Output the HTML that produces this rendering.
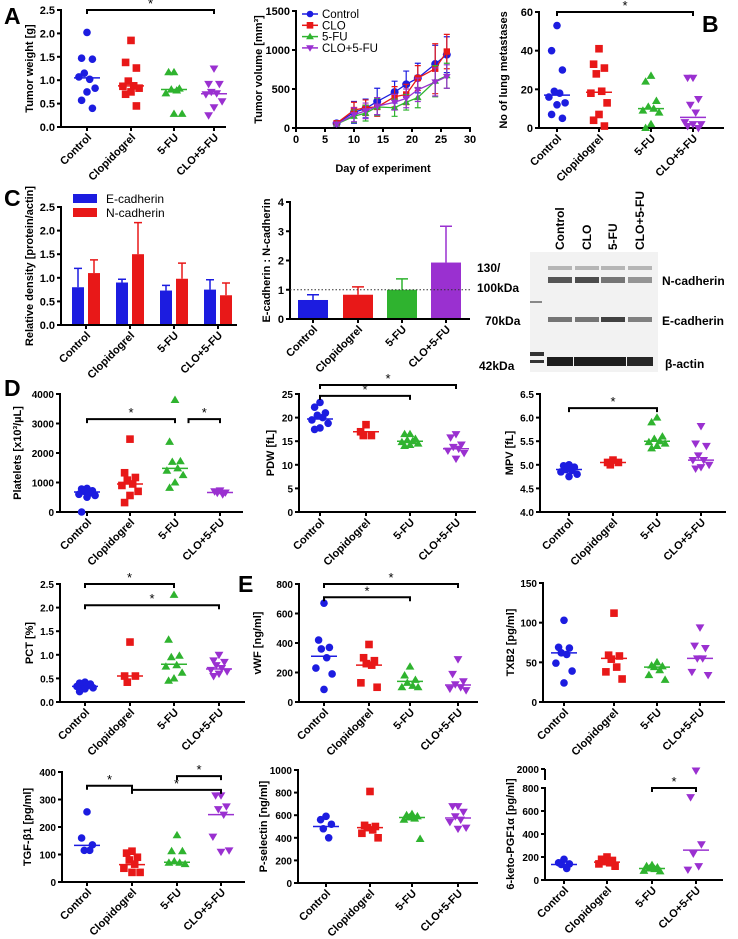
<!DOCTYPE html>
<html><head><meta charset="utf-8"><style>
html,body{margin:0;padding:0;background:#fff}
svg{display:block;font-family:"Liberation Sans",Arial,sans-serif}
</style></head><body>
<svg id="fig" width="738" height="939" viewBox="0 0 738 939" xmlns="http://www.w3.org/2000/svg">
<rect width="738" height="939" fill="#fff"/>
<g font-weight="bold" font-size="23" fill="#000">
<text x="4" y="24">A</text>
<text x="702" y="32">B</text>
<text x="4" y="206">C</text>
<text x="4" y="396">D</text>
<text x="238" y="592">E</text>
</g>
<g id="blot">
<rect x="530" y="252" width="128" height="120" fill="#f2f2f2"/>
<g font-weight="bold" font-size="12" fill="#000">
<text transform="translate(564,250) rotate(-90)">Control</text>
<text transform="translate(591,250) rotate(-90)">CLO</text>
<text transform="translate(617,250) rotate(-90)">5-FU</text>
<text transform="translate(644,250) rotate(-90)">CLO+5-FU</text>
<text x="477" y="272">130/</text>
<text x="477" y="292">100kDa</text>
<text x="485" y="325">70kDa</text>
<text x="479" y="370">42kDa</text>
<text x="662" y="285">N-cadherin</text>
<text x="662" y="325">E-cadherin</text>
<text x="665" y="368">β-actin</text>
</g>
</g>
</svg>
<script>
const groups=['Control','Clopidogrel','5-FU','CLO+5-FU'];
const colors=['#1c1ce0','#e81818','#2fb32f','#9a30d0'];
const shapes=['circle','square','tri','itri'];

// Panel A tumor weight
const twTicks=[0,0.5,1,1.5,2,2.5];
const twTickLabels=['0.0','0.5','1.0','1.5','2.0','2.5'];
const twValues=[[2.02,1.47,1.45,1.15,1.02,1.07,0.83,0.75,0.57,0.40],[1.85,1.38,1.26,0.98,0.88,0.87,0.83,0.75,0.70,0.45],[1.17,1.17,0.82,0.80,0.78,0.72,0.28,0.28],[1.25,0.92,0.92,0.75,0.72,0.70,0.55,0.42,0.25]];
const twMedians=[1.05,0.88,0.80,0.71];
const twSig=[[0,3,2.5]];
// Panel B lung metastases
const lmTicks=[0,20,40,60];
const lmTickLabels=['0','20','40','60'];
const lmValues=[[53,40,30,19,18,16,13,12,7,5],[41,33,31,28,19,18,13,7,4,1],[27,24,14,11,10,9,8,2,0],[26,26,15,12,8,3,2,2,1,0]];
const lmMedians=[17,18.5,10,5.5];
const lmSig=[[0,3,60]];
// Line chart
const days=[7,10,12,14,17,19,21,24,26];
const dayTicks=[0,5,10,15,20,25,30];
const volTicks=[0,500,1000,1500];
const volControl=[60,200,250,340,460,560,640,820,940];
const volControlErr=[30,140,120,170,140,170,190,240,230];
const volClo=[60,230,260,270,400,430,640,760,980];
const volCloErr=[30,100,100,120,130,130,160,320,220];
const vol5fu=[50,150,190,270,260,330,390,600,670];
const vol5fuErr=[25,80,100,110,110,100,130,200,160];
const volCombo=[50,170,220,280,330,380,490,590,660];
const volComboErr=[25,90,100,110,100,120,150,180,150];
// Panel C bars
const ecad=[0.8,0.9,0.73,0.75];
const ecadErr=[0.4,0.07,0.11,0.21];
const ncad=[1.1,1.5,0.98,0.63];
const ncadErr=[0.28,0.67,0.33,0.26];
const cTicks=[0,0.5,1,1.5,2,2.5];
const cTickLabels=['0.0','0.5','1.0','1.5','2.0','2.5'];
const ratio=[0.65,0.83,1.0,1.93];
const ratioErr=[0.18,0.27,0.37,1.24];
const ratioTicks=[0,1,2,3,4];
// Platelets
const pltTicks=[0,1000,2000,3000,4000];
const pltValues=[[800,780,720,700,640,600,560,500,0],[2470,1330,1170,1080,950,900,700,560,320],[3800,2380,1720,1700,1480,1400,1250,1000,820],[730,700,660,650,600]];
const pltMedians=[680,950,1480,660];
const pltSig=[[0,2,3150],[2.3,3,3150]];
// PDW
const pdwTicks=[0,5,10,15,20,25];
const pdwValues=[[23.2,22.2,21,20.5,20,19.5,18.8,17.8,17.5],[18.5,17,16.2,16.2],[16.5,16.5,15.5,15.2,15,14.8,14.5,14.2,14],[16.5,15.8,14.3,13.8,13.4,13,12.5,11.3]];
const pdwMedians=[19.7,17,15,13.4];
const pdwSig=[[0,2,24.6],[0,3,26.9]];
// MPV
const mpvTicks=[4,4.5,5,5.5,6,6.5];
const mpvTickLabels=['4.0','4.5','5.0','5.5','6.0','6.5'];
const mpvValues=[[5.0,4.98,4.95,4.9,4.88,4.85,4.8,4.75],[5.1,5.05,5.05,5.0],[6.0,5.9,5.6,5.55,5.5,5.48,5.45,5.4,5.35],[5.82,5.45,5.4,5.2,5.1,5.1,5.0,4.95,4.92]];
const mpvMedians=[4.9,5.05,5.5,5.1];
const mpvSig=[[0,2,6.2]];
// PCT
const pctTicks=[0,0.5,1,1.5,2,2.5];
const pctTickLabels=['0.0','0.5','1.0','1.5','2.0','2.5'];
const pctValues=[[0.42,0.4,0.38,0.36,0.35,0.33,0.3,0.28,0.22],[1.27,0.55,0.55,0.42],[2.27,1.32,0.98,0.95,0.78,0.75,0.62,0.5,0.45],[1.0,0.88,0.85,0.78,0.72,0.68,0.65,0.6,0.55]];
const pctMedians=[0.33,0.55,0.8,0.7];
const pctSig=[[0,2,2.5],[0,3,2.05]];
// vWF
const vwfTicks=[0,200,400,600,800];
const vwfValues=[[670,420,370,360,300,230,190,85],[390,300,280,260,250,130,100],[240,180,150,130,110,100,100],[290,190,140,120,100,90,80]];
const vwfMedians=[310,250,140,115];
const vwfSig=[[0,2,710],[0,3,800]];
// TXB2
const txbTicks=[0,50,100,150];
const txbValues=[[103,69,68,62,60,49,39,24],[112,59,58,54,44,38,29],[50,46,45,44,40,34,28],[94,71,68,55,55,38,34]];
const txbMedians=[62,55,44,55];
// TGF
const tgfTicks=[0,100,200,300,400];
const tgfValues=[[255,160,135,115,115],[112,105,90,80,65,50,35,35],[170,112,112,75,70,70,65],[315,315,275,265,245,165,115,110]];
const tgfMedians=[133,63,72,245];
const tgfSig=[[0,1,350],[1,3,335],[2,3,385]];
// P-selectin
const pselTicks=[0,200,400,600,800,1000];
const pselValues=[[590,560,520,480,400],[810,510,500,490,470,440,400],[610,600,590,580,570,560,390],[680,680,630,590,560,540,490,480]];
const pselMedians=[500,490,580,575];
// 6-keto
const ketoTicks=[0,200,400,600,800];
const ketoValues=[[180,150,140,135,100],[200,180,170,160,150,140,120],[130,120,110,100,95,80,75],[1900,720,310,230,120,90]];
const ketoMedians=[135,155,100,260];
const ketoSig=[[2,3,800]];

const NS='http://www.w3.org/2000/svg';
const svg=document.getElementById('fig');
function mk(tag,attrs,name,parent){
  const e=document.createElementNS(NS,tag);
  for(const k in attrs)e.setAttribute(k,attrs[k]);
  
  
  (parent||svg).appendChild(e);return e;
}
function txt(x,y,s,attrs,name,parent){const t=mk('text',Object.assign({x:x,y:y,'font-weight':'bold','font-size':11,fill:'#000'},attrs||{}),name,parent);t.textContent=s;return t;}
function marker(g,shape,x,y,c,r){
  r=r||3.8;
  if(shape==='circle')mk('circle',{cx:x,cy:y,r:r,fill:c},'marker-circle',g);
  else if(shape==='square')mk('rect',{x:x-r,y:y-r,width:2*r,height:2*r,fill:c},'marker-square',g);
  else if(shape==='tri')mk('polygon',{points:`${x},${y-r-0.6} ${x+r+0.6},${y+r*0.8} ${x-r-0.6},${y+r*0.8}`,fill:c},'marker-triangle',g);
  else mk('polygon',{points:`${x},${y+r+0.6} ${x+r+0.6},${y-r*0.8} ${x-r-0.6},${y-r*0.8}`,fill:c},'marker-inverted-triangle',g);
}
function yAxis(g,L,ticks,labels,title,titleX){
  const ys=v=>L.yfn?L.yfn(v):L.y0-(v-L.vmin)/(L.vmax-L.vmin)*(L.y0-L.y1);
  mk('line',{x1:L.ax,y1:ys(ticks[ticks.length-1])-1,x2:L.ax,y2:L.y0+1,stroke:'#000','stroke-width':2},'y-axis',g);
  ticks.forEach((t,i)=>{const y=ys(t);
    mk('line',{x1:L.ax-4,y1:y,x2:L.ax,y2:y,stroke:'#000','stroke-width':2},'y-tick',g);
    txt(L.ax-6,y+4,labels?labels[i]:String(t),{'text-anchor':'end','font-size':L.tf||11},'y-tick-label',g);});
  const mid=(L.y0+ys(ticks[ticks.length-1]))/2;
  txt(0,0,title,{'text-anchor':'middle',transform:`translate(${titleX},${mid}) rotate(-90)`,'font-size':L.titf||11},'y-axis-title',g);
  return ys;
}
function xAxisCats(g,L){
  mk('line',{x1:L.ax-1,y1:L.y0,x2:L.xEnd,y2:L.y0,stroke:'#000','stroke-width':2},'x-axis',g);
  L.cats.forEach((cx,i)=>{
    mk('line',{x1:cx,y1:L.y0,x2:cx,y2:L.y0+4,stroke:'#000','stroke-width':2},'x-tick',g);
    txt(0,0,groups[i],{'text-anchor':'end','font-size':11,transform:`translate(${cx+5},${L.y0+11}) rotate(-45)`},'x-category-label',g);
  });
}
const jit=[0,-6,6,-3,3,-9,9,0,-6,6];
function scatterPanel(name,L,ticks,labels,title,titleX,values,medians,sig){
  const g=mk('g',{},name);
  const ys=yAxis(g,L,ticks,labels,title,titleX);
  xAxisCats(g,L);
  values.forEach((arr,gi)=>{
    arr.forEach((v,i)=>marker(g,shapes[gi],L.cats[gi]+jit[i%jit.length]*0.9,ys(v),colors[gi]));
    const my=ys(medians[gi]);
    mk('line',{x1:L.cats[gi]-13,y1:my,x2:L.cats[gi]+13,y2:my,stroke:colors[gi],'stroke-width':1.5},'median-line',g);
  });
  (sig||[]).forEach(s=>{
    const pos=k=>{const a=Math.floor(k),f=k-a;return f?L.cats[a]+f*(L.cats[a+1]-L.cats[a]):L.cats[a];};
    const x1=pos(s[0]),x2=pos(s[1]),y=ys(s[2]);
    mk('path',{d:`M${x1},${y+4}V${y}H${x2}V${y+4}`,fill:'none',stroke:'#000','stroke-width':2},'significance-bracket',g);
    txt((x1+x2)/2,y-2,'*',{'text-anchor':'middle','font-size':13,'font-weight':'normal'},'significance-star',g);
  });
  return g;
}
scatterPanel('tumor-weight-chart',{ax:61,y0:127,y1:10,vmin:0,vmax:2.5,cats:[87,131,174,214],xEnd:226},twTicks,twTickLabels,'Tumor weight [g]',33,twValues,twMedians,twSig);
scatterPanel('lung-metastases-chart',{ax:539,y0:128,y1:12,vmin:0,vmax:60,cats:[557,599,651,693],xEnd:724},lmTicks,lmTickLabels,'No of lung metastases',507,lmValues,lmMedians,lmSig);
scatterPanel('platelets-chart',{ax:60,y0:512,y1:394,vmin:0,vmax:4000,cats:[87,130,175,220],xEnd:243,tf:10},pltTicks,null,'Platelets [x10³/µL]',21,pltValues,pltMedians,pltSig);
scatterPanel('pdw-chart',{ax:299,y0:512,y1:394,vmin:0,vmax:25,cats:[320,366,410,456],xEnd:476,tf:10},pdwTicks,null,'PDW [fL]',274,pdwValues,pdwMedians,pdwSig);
scatterPanel('mpv-chart',{ax:540,y0:512,y1:394,vmin:4,vmax:6.5,cats:[569,613,657,701],xEnd:726,tf:10},mpvTicks,mpvTickLabels,'MPV [fL]',513,mpvValues,mpvMedians,mpvSig);
scatterPanel('pct-chart',{ax:60,y0:702,y1:584,vmin:0,vmax:2.5,cats:[85,130,174,219],xEnd:245,tf:10},pctTicks,pctTickLabels,'PCT [%]',33,pctValues,pctMedians,pctSig);
scatterPanel('vwf-chart',{ax:299,y0:702,y1:584,vmin:0,vmax:800,cats:[324,369,410,458],xEnd:478,tf:10},vwfTicks,null,'vWF [ng/ml]',261,vwfValues,vwfMedians,vwfSig);
scatterPanel('txb2-chart',{ax:543,y0:702,y1:583,vmin:0,vmax:150,cats:[564,614,657,700],xEnd:725,tf:10},txbTicks,null,'TXB2 [pg/ml]',514,txbValues,txbMedians,null);
scatterPanel('tgf-chart',{ax:62,y0:882,y1:772,vmin:0,vmax:400,cats:[87,132,177,221],xEnd:245,tf:10},tgfTicks,null,'TGF-β1 [pg/ml]',31,tgfValues,tgfMedians,tgfSig);
scatterPanel('p-selectin-chart',{ax:298,y0:883,y1:770,vmin:0,vmax:1000,cats:[326,370,412,458],xEnd:478,tf:10},pselTicks,null,'P-selectin [ng/ml]',267,pselValues,pselMedians,null);
const ketoY=v=>v<=800?880-v/800*92:788-(v-800)/1200*19;
const kg=scatterPanel('keto-chart',{ax:545,y0:880,y1:788,vmin:0,vmax:800,yfn:ketoY,cats:[564,607,652,696],xEnd:723,tf:10},ketoTicks,null,'6-keto-PGF1α [pg/ml]',514,ketoValues,ketoMedians,ketoSig);
mk('line',{x1:545,y1:769,x2:545,y2:780,stroke:'#000','stroke-width':2},'y-axis-break-segment',kg);
mk('line',{x1:541,y1:769,x2:545,y2:769,stroke:'#000','stroke-width':2},'y-tick',kg);
txt(539,773,'2000',{'text-anchor':'end','font-size':10},'y-tick-label',kg);

// Line chart
(function(){
  const g=mk('g',{},'tumor-volume-chart');
  const L={ax:296,y0:128,y1:11,vmin:0,vmax:1500};
  const xs=d=>296+d/30*174;
  const ys=yAxis(g,L,volTicks,null,'Tumor volume [mm³]',262);
  mk('line',{x1:295,y1:128,x2:471,y2:128,stroke:'#000','stroke-width':2},'x-axis',g);
  dayTicks.forEach(d=>{mk('line',{x1:xs(d),y1:128,x2:xs(d),y2:132,stroke:'#000','stroke-width':2},'x-tick',g);
    txt(xs(d),143,String(d),{'text-anchor':'middle'},'x-tick-label',g);});
  txt(383,172,'Day of experiment',{'text-anchor':'middle'},'x-axis-title',g);
  const series=[[volControl,volControlErr],[volClo,volCloErr],[vol5fu,vol5fuErr],[volCombo,volComboErr]];
  series.forEach((s,si)=>{
    const sg=mk('g',{},'series-'+groups[si].toLowerCase(),g);
    s[0].forEach((v,i)=>{const x=xs(days[i]);
      mk('path',{d:`M${x-3},${ys(v+s[1][i])}H${x+3}M${x},${ys(v+s[1][i])}V${ys(Math.max(0,v-s[1][i]))}M${x-3},${ys(Math.max(0,v-s[1][i]))}H${x+3}`,stroke:colors[si],'stroke-width':1.2,fill:'none'},'error-bar',sg);});
    mk('polyline',{points:s[0].map((v,i)=>xs(days[i])+','+ys(v)).join(' '),fill:'none',stroke:colors[si],'stroke-width':1.3},'series-line',sg);
    s[0].forEach((v,i)=>marker(sg,shapes[si],xs(days[i]),ys(v),colors[si],si===0?4:3.2));
  });
  const names=['Control','CLO','5-FU','CLO+5-FU'];
  names.forEach((n,i)=>{const y=14+i*11.3;
    mk('line',{x1:302,y1:y,x2:318,y2:y,stroke:colors[i],'stroke-width':1.5},'legend-line',g);
    marker(g,shapes[i],310,y,colors[i],3.3);
    txt(322,y+4,n,{'font-weight':'normal','font-size':11.5},'legend-entry',g);});
})();

// Bar chart C1
(function(){
  const g=mk('g',{},'cadherin-density-chart');
  const L={ax:61,y0:325,y1:207,vmin:0,vmax:2.5,cats:[86,130,174,218],xEnd:237,tf:11};
  const ys=yAxis(g,L,cTicks,cTickLabels,'Relative density [protein/actin]',33);
  ecad.forEach((v,i)=>{const x=L.cats[i]-14;
    mk('path',{d:`M${x+6},${ys(v)}V${ys(v+ecadErr[i])}M${x+2},${ys(v+ecadErr[i])}H${x+10}`,stroke:'#1c1ce0','stroke-width':1.5},'error-bar',g);
    mk('rect',{x:x,y:ys(v),width:12,height:L.y0-ys(v),fill:'#1c1ce0'},'bar-e-cadherin',g);});
  ncad.forEach((v,i)=>{const x=L.cats[i]+2;
    mk('path',{d:`M${x+6},${ys(v)}V${ys(v+ncadErr[i])}M${x+2},${ys(v+ncadErr[i])}H${x+10}`,stroke:'#e81818','stroke-width':1.5},'error-bar',g);
    mk('rect',{x:x,y:ys(v),width:12,height:L.y0-ys(v),fill:'#e81818'},'bar-n-cadherin',g);});
  xAxisCats(g,L);
  mk('rect',{x:73,y:194,width:24,height:9,fill:'#1c1ce0'},'legend-swatch-e-cadherin',g);
  txt(106,203,'E-cadherin',{'font-weight':'normal','font-size':12},'legend-entry',g);
  mk('rect',{x:73,y:208,width:24,height:9,fill:'#e81818'},'legend-swatch-n-cadherin',g);
  txt(106,217,'N-cadherin',{'font-weight':'normal','font-size':12},'legend-entry',g);
})();
// Bar chart C2
(function(){
  const g=mk('g',{},'cadherin-ratio-chart');
  const L={ax:290,y0:319,y1:202,vmin:0,vmax:4,cats:[313,358,402,446],xEnd:470,tf:11};
  const ys=yAxis(g,L,ratioTicks,null,'E-cadherin : N-cadherin',270);
  ratio.forEach((v,i)=>{const x=L.cats[i];
    mk('path',{d:`M${x},${ys(v)}V${ys(v+ratioErr[i])}M${x-6},${ys(v+ratioErr[i])}H${x+6}`,stroke:colors[i],'stroke-width':1.5},'error-bar',g);
    mk('rect',{x:x-15,y:ys(v),width:30,height:L.y0-ys(v),fill:colors[i]},'bar-'+groups[i].toLowerCase(),g);});
  mk('line',{x1:290,y1:ys(1),x2:470,y2:ys(1),stroke:'#333','stroke-width':1,'stroke-dasharray':'1.5,2'},'reference-line',g);
  xAxisCats(g,L);
})();
// Blot bands
(function(){
  const g=document.getElementById('blot');
  const lanes=[560,587,613,640];
  const nI=[0.75,0.8,0.6,0.45], eI=[0.6,0.6,0.85,0.55], aI=[0.95,0.95,0.95,0.9];
  lanes.forEach((x,i)=>{
    mk('rect',{x:x-12,y:266,width:24,height:4,fill:'#444',opacity:0.35},'band-n-cadherin-upper',g);
    mk('rect',{x:x-12,y:277,width:24,height:6,fill:'#222',opacity:nI[i]},'band-n-cadherin',g);
    mk('rect',{x:x-12,y:317,width:24,height:5,fill:'#222',opacity:eI[i]},'band-e-cadherin',g);
    mk('rect',{x:x-13,y:357,width:26,height:9,fill:'#111',opacity:aI[i]},'band-beta-actin',g);
  });
  mk('rect',{x:530,y:352,width:14,height:4,fill:'#333'},'ladder-band',g);
  mk('rect',{x:530,y:360,width:14,height:3,fill:'#333'},'ladder-band',g);
  mk('rect',{x:530,y:301,width:12,height:2,fill:'#888'},'ladder-band',g);
})();
</script>
</body></html>
